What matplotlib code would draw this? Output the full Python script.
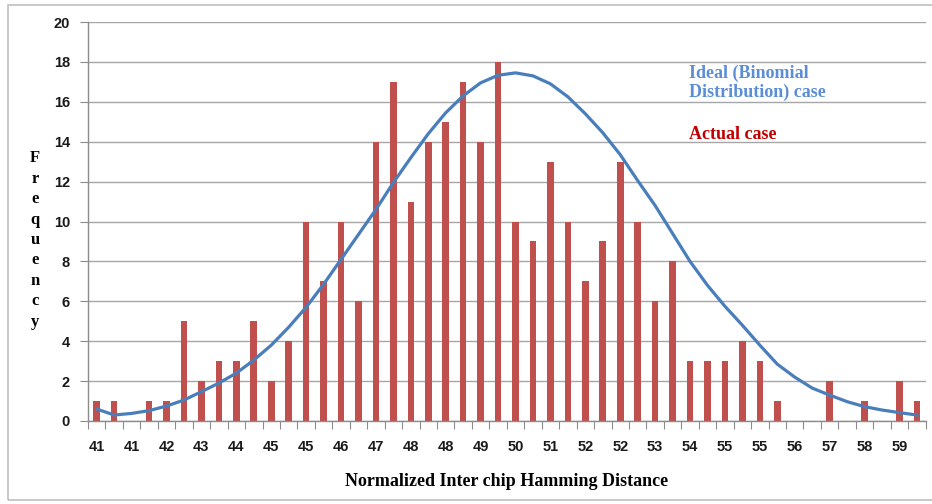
import numpy as np
import matplotlib
matplotlib.use('Agg')
import matplotlib.pyplot as plt
from matplotlib.patches import Rectangle

# bar heights (actual case), one per bin
actual = [1, 1, 0, 1, 1, 5, 2, 3, 3, 5, 2, 4, 10, 7, 10, 6, 14, 17, 11, 14, 15, 17, 14, 18,
          10, 9, 13, 10, 7, 9, 13, 10, 6, 8, 3, 3, 3, 4, 3, 1, 0, 0, 2, 0, 1, 0, 2, 1]

# ideal (binomial) curve
ideal = [0.6, 0.3, 0.38, 0.52, 0.75, 1.05, 1.47, 1.9, 2.4, 3.05, 3.8, 4.7, 5.7, 6.85,
         8.1, 9.35, 10.6, 11.95, 13.2, 14.4, 15.45, 16.3, 16.95, 17.33, 17.45, 17.3,
         16.9, 16.25, 15.4, 14.45, 13.35, 12.05, 10.8, 9.4, 8.0, 6.8, 5.75, 4.8, 3.8,
         2.85, 2.2, 1.65, 1.3, 0.97, 0.72, 0.55, 0.42, 0.3]

x_labels = ['41', '41', '42', '43', '44', '45', '45', '46', '47', '48', '48', '49',
            '50', '51', '52', '52', '53', '54', '55', '55', '56', '57', '58', '59']

n = len(actual)
x = np.arange(n)

fig = plt.figure(figsize=(9.32, 5.04), dpi=100)
ax = fig.add_axes([88 / 932, 1 - 421 / 504, 837.6 / 932, 399 / 504])

# outer chart frame
fig.patches.append(Rectangle((8 / 932, 1 - 500 / 504), 1.0, 495 / 504,
                             transform=fig.transFigure, fill=False,
                             edgecolor='#BFBFBF', linewidth=1.2))

ax.bar(x, actual, width=0.38, color='#C0504D', zorder=2)
ax.plot(x, ideal, color='#4A7EBB', linewidth=2.3, zorder=3)

ax.set_xlim(-0.5, n - 0.5)
ax.set_ylim(0, 20)
ax.set_yticks(np.arange(0, 21, 2))
ax.yaxis.grid(True, color='#A6A6A6', linewidth=1.0, zorder=0)
ax.set_axisbelow(True)

for s in ['top', 'right']:
    ax.spines[s].set_visible(False)
for s in ['left', 'bottom']:
    ax.spines[s].set_color('#8C8C8C')
    ax.spines[s].set_linewidth(1.0)

# tick marks between bins, labels under every other bin
ax.set_xticks(np.arange(-0.5, n, 1.0))
ax.set_xticklabels([])
ax.set_xticks(x[::2], x_labels, minor=True)
ax.tick_params(axis='x', which='major', length=6, color='#8C8C8C', direction='out')
ax.tick_params(axis='x', which='minor', length=0, pad=14)
ax.tick_params(axis='y', length=6, color='#8C8C8C', pad=7)

tick_font = dict(family='Liberation Sans', weight='bold', size=10.5)
for lab in ax.get_xticklabels(minor=True) + ax.get_yticklabels():
    lab.set_fontproperties(matplotlib.font_manager.FontProperties(**tick_font))
    lab.set_color('#1A1A1A')

fig.text(507 / 932, 1 - 481 / 504, 'Normalized Inter chip Hamming Distance',
         ha='center', va='center', family='Liberation Serif', weight='bold', size=13)
fig.text(35 / 932, 1 - 240 / 504, '\n'.join('Frequency'), ha='center', va='center',
         family='Liberation Serif', weight='bold', size=12, linespacing=1.37)

fig.text(689 / 932, 1 - 83 / 504, 'Ideal (Binomial\nDistribution) case', ha='left',
         va='center', family='Liberation Serif', weight='bold', size=13,
         color='#5B8ED6', linespacing=1.12)
fig.text(689 / 932, 1 - 135 / 504, 'Actual case', ha='left', va='center',
         family='Liberation Serif', weight='bold', size=13, color='#C00000')

fig.savefig('out.png', dpi=100)
